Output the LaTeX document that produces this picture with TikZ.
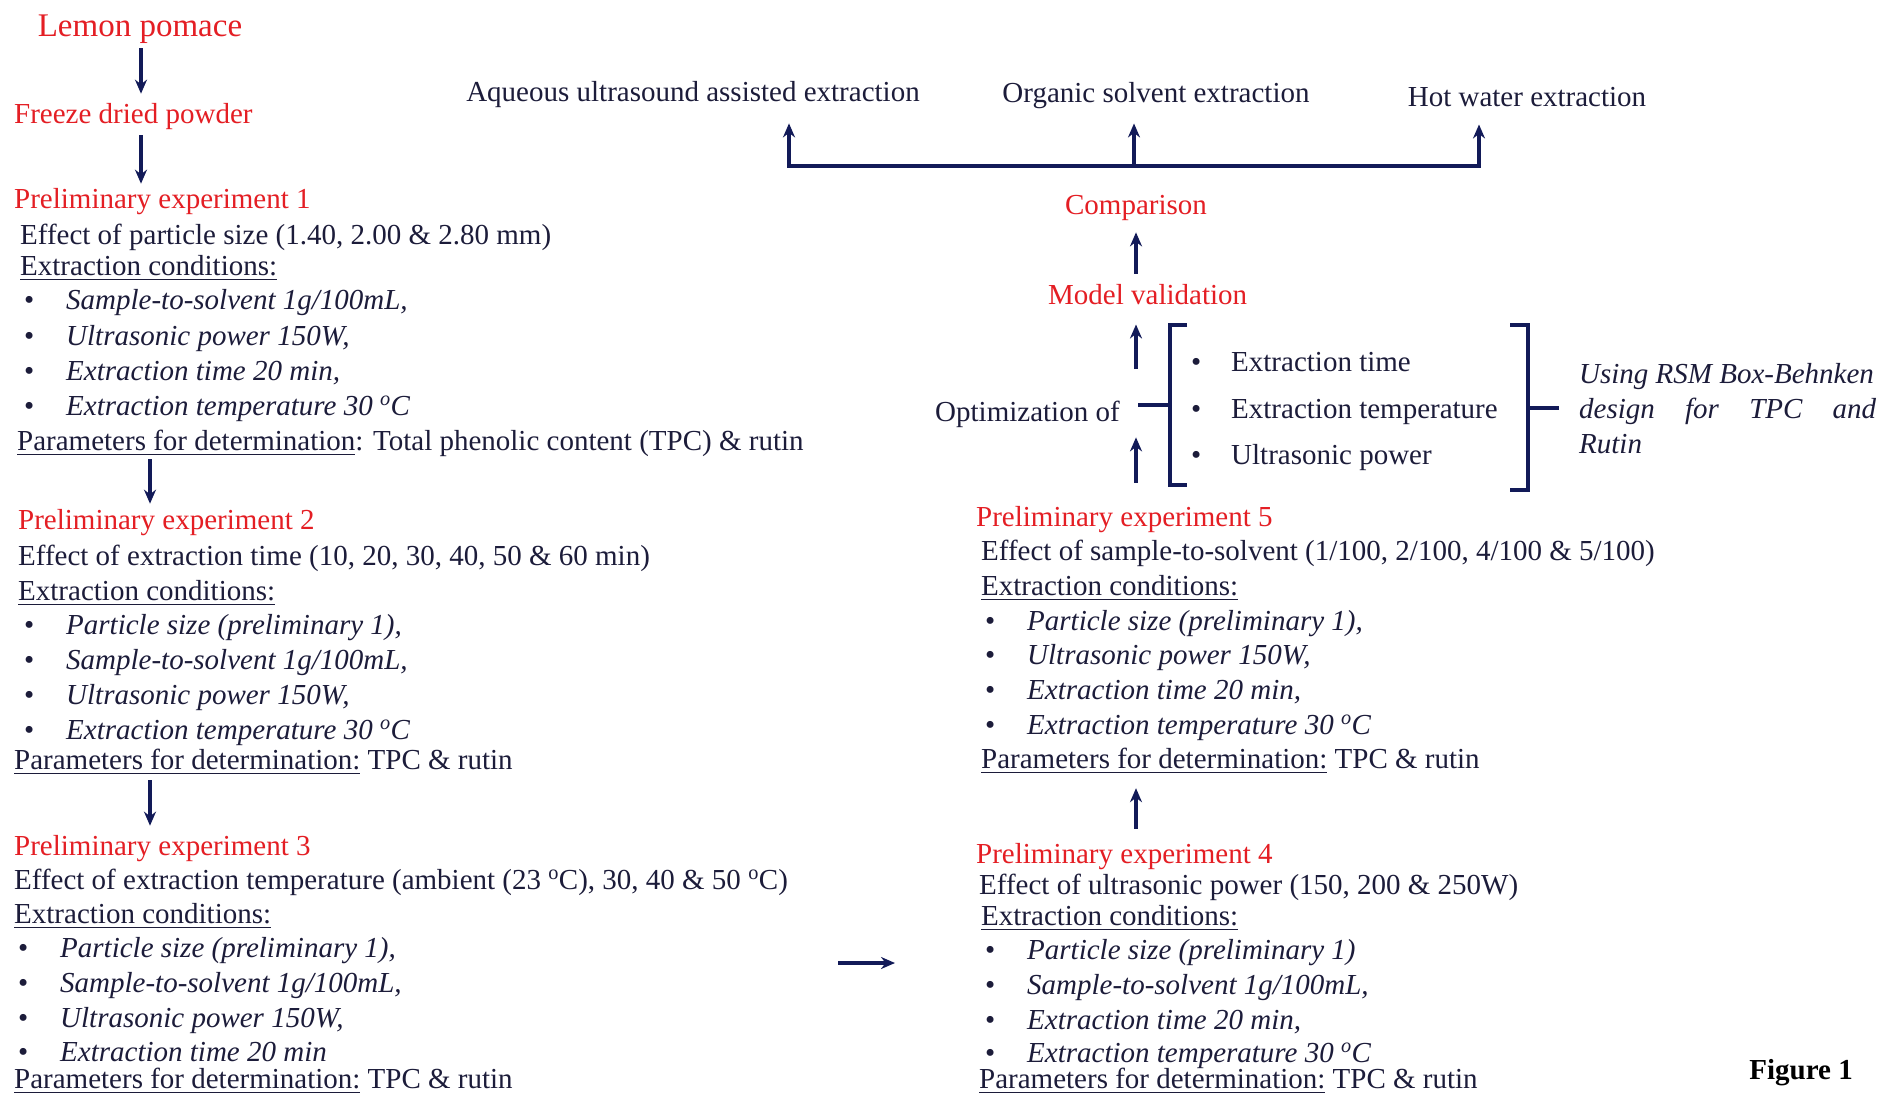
\documentclass[tikz,border=0pt]{standalone}
\usepackage{fontspec}
\setmainfont{Liberation Serif}
\usetikzlibrary{arrows.meta}
\definecolor{tred}{RGB}{228,30,36}
\definecolor{tdark}{RGB}{28,28,58}
\definecolor{tarr}{RGB}{18,26,88}
\tikzset{
 txt/.style={inner sep=0pt, anchor=base west, text=tdark, font=\fontsize{29}{35}\selectfont},
 ttl/.style={txt, text=tred},
 arr/.style={draw=tarr, line width=3.4pt, -{Stealth[length=14pt,width=12pt]}},
 brk/.style={draw=tarr, line width=3.4pt},
}
\newsavebox\ulbox
\newcommand\uln[1]{\sbox\ulbox{#1}\rlap{\rule[-5pt]{\wd\ulbox}{1.4pt}}\usebox\ulbox}
\newcommand\itm[1]{\makebox[42pt][l]{\textbullet}\textit{#1}}
\newcommand\opitm[1]{\makebox[40pt][l]{\textbullet}#1}
\newcommand\dgc{\textsuperscript{o}C}
\begin{document}
\begin{tikzpicture}[x=1pt,y=-1pt]
\useasboundingbox (0,0) rectangle (1883,1093);
\fill[white] (0,0) rectangle (1883,1093);

% left column
\node[ttl, anchor=base, font=\fontsize{33}{38}\selectfont] (lemon) at (140,36) {Lemon pomace};
\node[ttl] (freeze) at (14,123) {Freeze dried powder};

\node[ttl] (p1t) at (14,208) {Preliminary experiment 1};
\node[txt] (p1e) at (20,244) {Effect of particle size (1.40, 2.00 \& 2.80 mm)};
\node[txt] (p1c) at (20,275) {\uln{Extraction conditions:}};
\node[txt] (p1a) at (24,309) {\itm{Sample-to-solvent 1g/100mL,}};
\node[txt] (p1b) at (24,345) {\itm{Ultrasonic power 150W,}};
\node[txt] (p1d) at (24,380) {\itm{Extraction time 20 min,}};
\node[txt] (p1f) at (24,415) {\itm{Extraction temperature 30 \dgc}};
\node[txt] (p1p) at (17,450) {\uln{Parameters for determination}: Total phenolic content (TPC) \& rutin};

\node[ttl] (p2t) at (18,529) {Preliminary experiment 2};
\node[txt] (p2e) at (18,565) {Effect of extraction time (10, 20, 30, 40, 50 \& 60 min)};
\node[txt] (p2c) at (18,600) {\uln{Extraction conditions:}};
\node[txt] (p2a) at (24,634) {\itm{Particle size (preliminary 1),}};
\node[txt] (p2b) at (24,669) {\itm{Sample-to-solvent 1g/100mL,}};
\node[txt] (p2d) at (24,704) {\itm{Ultrasonic power 150W,}};
\node[txt] (p2f) at (24,739) {\itm{Extraction temperature 30 \dgc}};
\node[txt] (p2p) at (14,769) {\uln{Parameters for determination:} TPC \& rutin};

\node[ttl] (p3t) at (14,855) {Preliminary experiment 3};
\node[txt] (p3e) at (14,889) {Effect of extraction temperature (ambient (23 \dgc), 30, 40 \& 50 \dgc)};
\node[txt] (p3c) at (14,923) {\uln{Extraction conditions:}};
\node[txt] (p3a) at (18,957) {\itm{Particle size (preliminary 1),}};
\node[txt] (p3b) at (18,992) {\itm{Sample-to-solvent 1g/100mL,}};
\node[txt] (p3d) at (18,1027) {\itm{Ultrasonic power 150W,}};
\node[txt] (p3f) at (18,1061) {\itm{Extraction time 20 min}};
\node[txt] (p3p) at (14,1088) {\uln{Parameters for determination:} TPC \& rutin};

% right column
\node[ttl] (p5t) at (976,526) {Preliminary experiment 5};
\node[txt] (p5e) at (981,560) {Effect of sample-to-solvent (1/100, 2/100, 4/100 \& 5/100)};
\node[txt] (p5c) at (981,595) {\uln{Extraction conditions:}};
\node[txt] (p5a) at (985,630) {\itm{Particle size (preliminary 1),}};
\node[txt] (p5b) at (985,664) {\itm{Ultrasonic power 150W,}};
\node[txt] (p5d) at (985,699) {\itm{Extraction time 20 min,}};
\node[txt] (p5f) at (985,734) {\itm{Extraction temperature 30 \dgc}};
\node[txt] (p5p) at (981,768) {\uln{Parameters for determination:} TPC \& rutin};

\node[ttl] (p4t) at (976,863) {Preliminary experiment 4};
\node[txt] (p4e) at (979,894) {Effect of ultrasonic power (150, 200 \& 250W)};
\node[txt] (p4c) at (981,925) {\uln{Extraction conditions:}};
\node[txt] (p4a) at (985,959) {\itm{Particle size (preliminary 1)}};
\node[txt] (p4b) at (985,994) {\itm{Sample-to-solvent 1g/100mL,}};
\node[txt] (p4d) at (985,1029) {\itm{Extraction time 20 min,}};
\node[txt] (p4f) at (985,1062) {\itm{Extraction temperature 30 \dgc}};
\node[txt] (p4p) at (979,1088) {\uln{Parameters for determination:} TPC \& rutin};

% top
\node[txt, anchor=base] (aq) at (693,101) {Aqueous ultrasound assisted extraction};
\node[txt, anchor=base] (org) at (1156,102) {Organic solvent extraction};
\node[txt, anchor=base] (hot) at (1527,106) {Hot water extraction};
\node[ttl, anchor=base] (comp) at (1136,214) {Comparison};
\node[ttl] (model) at (1048,304) {Model validation};
\node[txt] (opt) at (935,421) {Optimization of};
\node[txt] (o1) at (1191,371) {\opitm{Extraction time}};
\node[txt] (o2) at (1191,418) {\opitm{Extraction temperature}};
\node[txt] (o3) at (1191,464) {\opitm{Ultrasonic power}};
\node[txt, anchor=north west, align=left, font=\fontsize{29}{35}\selectfont\itshape] (rsm) at (1579,363)
  {Using RSM Box-Behnken\\\makebox[297pt][s]{design for TPC and}\\Rutin};
\node[inner sep=0pt, anchor=base east, font=\fontsize{29}{35}\selectfont\bfseries] (fig) at (1853,1079) {Figure 1};

% connectors
\coordinate (ax1) at (141,0);
\coordinate (ax2) at (150,0);
\coordinate (ax3) at (1136,0);
\draw[arr, shorten <=5pt, shorten >=9pt] (lemon.south -| ax1) -- (freeze.north -| ax1);
\draw[arr, shorten <=6pt, shorten >=4pt] (freeze.south -| ax1) -- (p1t.north -| ax1);
\draw[arr, shorten <=3pt, shorten >=5pt] (p1p.south -| ax2) -- (p2t.north -| ax2);
\draw[arr, shorten <=6pt, shorten >=9pt] (p2p.south -| ax2) -- (p3t.north -| ax2);
\draw[arr, shorten <=14pt, shorten >=15pt] (p4t.north -| ax3) -- (p5p.south -| ax3);
\draw[arr, shorten <=23pt, shorten >=10pt] (p5t.north -| ax3) -- (opt.south -| ax3);
\coordinate (ua) at (1136,369);
\draw[arr, shorten >=20pt] (ua) -- (ua |- model.south);
\draw[arr, shorten <=10pt, shorten >=12pt] (model.north -| ax3) -- (comp.south -| ax3);

\coordinate (bl) at (789,166);
\coordinate (bm) at (1134,166);
\coordinate (br) at (1479,166);
\draw[brk, line cap=rect] (bl) -- (br);
\draw[arr, shorten >=16pt] (bl) -- (bl |- aq.south);
\draw[arr, shorten >=15pt] (bm) -- (bm |- org.south);
\draw[arr, shorten >=18pt] (br) -- (br |- hot.south);

\coordinate (h1) at (838,963);
\coordinate (h2) at (895,963);
\draw[arr] (h1) -- (h2);

% brackets
\draw[brk] (1187,325) -- (1170,325) -- (1170,485) -- (1187,485);
\draw[brk] (1138,405) -- (1170,405);
\draw[brk] (1510,325) -- (1528,325) -- (1528,490) -- (1510,490);
\draw[brk] (1528,408) -- (1559,408);
\end{tikzpicture}
\end{document}
